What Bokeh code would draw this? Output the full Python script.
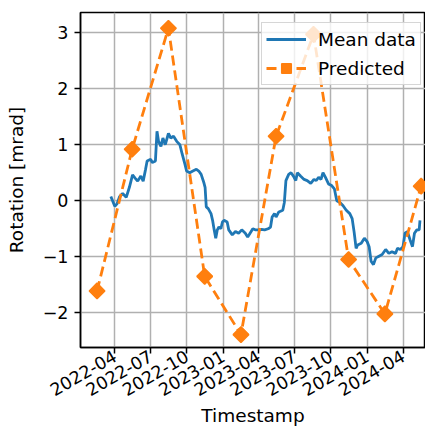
import numpy as np
import pandas as pd
from bokeh.plotting import figure
from bokeh.models import (ColumnDataSource, Range1d, FixedTicker, DatetimeTickFormatter,
                          CustomJSTickFormatter, Legend)
from bokeh.embed import file_html
from bokeh.resources import INLINE

# ---------------- data ----------------
mean_dates = ["2022-03-22","2022-04-01","2022-04-07","2022-04-13","2022-04-21","2022-04-30","2022-05-08",
"2022-05-16","2022-05-23","2022-05-29","2022-06-06","2022-06-12","2022-06-18","2022-06-22","2022-07-01",
"2022-07-05","2022-07-13","2022-07-17","2022-07-21","2022-07-27","2022-08-01","2022-08-07","2022-08-15",
"2022-08-21","2022-08-28","2022-09-05","2022-09-13","2022-09-19","2022-09-26","2022-09-30","2022-10-08",
"2022-10-16","2022-10-25","2022-10-31","2022-11-06","2022-11-13","2022-11-16","2022-11-19","2022-11-24",
"2022-12-01","2022-12-05","2022-12-09","2022-12-13","2022-12-17","2022-12-21","2022-12-26","2022-12-30",
"2023-01-03","2023-01-11","2023-01-15","2023-01-24","2023-02-01","2023-02-09","2023-02-17","2023-02-26",
"2023-03-04","2023-03-10","2023-03-17","2023-03-23","2023-03-31","2023-04-08","2023-04-16","2023-04-25",
"2023-05-01","2023-05-05","2023-05-11","2023-05-15","2023-05-22","2023-06-01","2023-06-05","2023-06-09",
"2023-06-16","2023-06-22","2023-06-28","2023-07-04","2023-07-08","2023-07-16","2023-07-25","2023-08-02",
"2023-08-11","2023-08-19","2023-08-25","2023-08-31","2023-09-06","2023-09-11","2023-09-17","2023-09-25",
"2023-10-03","2023-10-10","2023-10-16","2023-10-24","2023-11-01","2023-11-09","2023-11-18","2023-11-24",
"2023-11-29","2023-12-04","2023-12-08","2023-12-17","2023-12-25","2024-01-01","2024-01-06","2024-01-11",
"2024-01-17","2024-01-23","2024-01-31","2024-02-08","2024-02-17","2024-02-25","2024-03-04","2024-03-13",
"2024-03-18","2024-03-25","2024-04-01","2024-04-06","2024-04-12","2024-04-19","2024-04-25","2024-04-30",
"2024-05-06","2024-05-12","2024-05-14"]
mean_values = [0.076, -0.1, -0.05, 0.07, 0.13, 0.06, 0.24, 0.46, 0.4, 0.35, 0.44, 0.35, 0.56, 0.71, 0.74,
0.68, 0.71, 1.24, 1.06, 0.97, 1.12, 1.0, 1.2, 1.12, 1.15, 1.06, 1.0, 0.83, 0.65, 0.53, 0.5, 0.53, 0.56, 0.53,
0.47, 0.32, 0.24, -0.11, -0.14, -0.23, -0.35, -0.52, -0.67, -0.52, -0.47, -0.5, -0.38, -0.35, -0.38, -0.52,
-0.61, -0.55, -0.58, -0.52, -0.58, -0.65, -0.58, -0.5, -0.52, -0.52, -0.51, -0.52, -0.5, -0.47, -0.29, -0.23,
-0.29, -0.2, -0.17, -0.03, 0.36, 0.47, 0.5, 0.44, 0.36, 0.5, 0.44, 0.38, 0.36, 0.31, 0.38, 0.36, 0.42, 0.38,
0.5, 0.42, 0.3, 0.27, 0.21, 0.0, -0.03, -0.09, -0.17, -0.23, -0.32, -0.56, -0.85, -0.79, -0.76, -0.67, -0.73,
-0.82, -1.08, -1.14, -1.02, -0.99, -0.96, -0.87, -0.94, -0.91, -0.94, -0.85, -0.87, -0.82, -0.58, -0.55,
-0.7, -0.82, -0.58, -0.52, -0.52, -0.35]

pred_dates = ["2022-02-15","2022-05-15","2022-08-15","2022-11-15","2023-02-15",
              "2023-05-15","2023-08-18","2023-11-15","2024-02-15","2024-05-17"]
pred_values = [-1.61, 0.92, 3.08, -1.35, -2.39, 1.15, 2.97, -1.05, -2.02, 0.26]

x_tick_labels = ["2022-04","2022-07","2022-10","2023-01","2023-04","2023-07","2023-10","2024-01","2024-04"]
y_ticks = [-2, -1, 0, 1, 2, 3]

FONT = "DejaVu Sans"
TICK_FS = "17.5px"
FS = "18.5px"
BLUE = "#1f77b4"
ORANGE = "#ff7f0e"

mean_src = ColumnDataSource(dict(x=pd.to_datetime(mean_dates), y=mean_values))
pred_src = ColumnDataSource(dict(x=pd.to_datetime(pred_dates), y=pred_values))

p = figure(width=425, height=429, x_axis_type="datetime",
           x_range=Range1d(pd.Timestamp("2022-01-04"), pd.Timestamp("2024-05-28")),
           y_range=Range1d(-2.62, 3.36),
           output_backend="svg", toolbar_location=None,
           min_border_left=80, min_border_right=0, min_border_top=12, min_border_bottom=10)
p.outline_line_color = "black"
p.outline_line_width = 1.5
p.background_fill_color = "white"
p.border_fill_color = "white"

l1 = p.line("x", "y", source=mean_src, color=BLUE, line_width=2.8)
l2 = p.line("x", "y", source=pred_src, color=ORANGE, line_width=2.8, line_dash="10 5")
s2 = p.scatter("x", "y", source=pred_src, marker="square", angle=np.pi / 4, size=11,
               fill_color=ORANGE, line_color=ORANGE, line_width=1.5)

# axes
tick_ms = [pd.Timestamp(t + "-01").value / 1e6 for t in x_tick_labels]
p.xaxis.ticker = FixedTicker(ticks=tick_ms)
fmt = "%Y-%m"
p.xaxis.formatter = DatetimeTickFormatter(years=fmt, months=fmt, days=fmt, hours=fmt, minutes=fmt,
                                          seconds=fmt, milliseconds=fmt, microseconds=fmt, hourmin=fmt,
                                          minsec=fmt)
p.xaxis.major_label_orientation = np.pi / 6
p.yaxis.ticker = FixedTicker(ticks=y_ticks)
p.yaxis.formatter = CustomJSTickFormatter(code="return (tick < 0 ? '\\u2212' : '') + Math.abs(tick).toString();")

for ax in (p.xaxis[0], p.yaxis[0]):
    ax.axis_line_color = "black"
    ax.axis_line_width = 1.5
    ax.major_tick_line_color = "black"
    ax.major_tick_line_width = 1.5
    ax.major_tick_out = 6
    ax.major_tick_in = 0
    ax.minor_tick_line_color = None
    ax.major_label_text_font = FONT
    ax.major_label_text_font_size = TICK_FS
    ax.major_label_text_color = "black"
    ax.axis_label_text_font = FONT
    ax.axis_label_text_font_size = FS
    ax.axis_label_text_font_style = "normal"
    ax.axis_label_text_color = "black"

p.xaxis.axis_label = "Timestamp"
p.yaxis.axis_label = "Rotation [mrad]"
p.xaxis.major_label_standoff = 1
p.xaxis.axis_label_standoff = 0
p.yaxis.major_label_standoff = 6
p.yaxis.axis_label_standoff = 13

p.grid.grid_line_color = "#b0b0b0"
p.grid.grid_line_width = 1.5

legend = Legend(items=[("Mean data", [l1]), ("Predicted", [l2, s2])],
                location=(181, 262))
legend.label_text_font = FONT
legend.label_text_font_size = FS
legend.label_text_color = "black"
legend.glyph_width = 40
legend.glyph_height = 24
legend.label_height = 24
legend.label_standoff = 12
legend.spacing = 5
legend.padding = 4
legend.margin = 0
legend.background_fill_color = "white"
legend.background_fill_alpha = 0.8
legend.border_line_color = "#cccccc"
legend.border_line_width = 1.5
legend.border_line_alpha = 0.8
p.add_layout(legend)

open("out.html", "w").write(file_html(p, INLINE))
